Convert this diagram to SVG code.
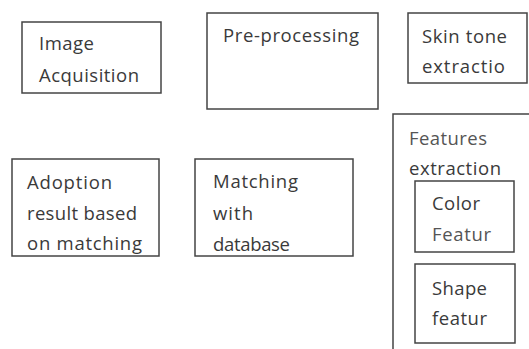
<svg xmlns="http://www.w3.org/2000/svg" width="529" height="349" viewBox="0 0 529 349">
<style>
.box{fill:#fff;stroke:#444;stroke-width:1.5}
.t{font-family:"Open Sans","DejaVu Sans",sans-serif;font-size:18.5px;fill:#3a3a3a}
.g{fill:#555}
</style>
<rect width="529" height="349" fill="#fff"/>
<g id="connectors"/>
<g id="image-acquisition">
<rect class="box" x="22" y="22" width="139" height="71"/>
<text class="t" x="39" y="50" textLength="55">Image</text>
<text class="t" x="39" y="82" textLength="100">Acquisition</text>
</g>
<g id="pre-processing">
<rect class="box" x="207" y="13" width="171" height="96"/>
<text class="t" x="223" y="42" textLength="136">Pre-processing</text>
</g>
<g id="skin-tone">
<rect class="box" x="408" y="13" width="119" height="70"/>
<text class="t" x="422" y="43" textLength="85">Skin tone</text>
<text class="t" x="422" y="73" textLength="83">extractio</text>
</g>
<g id="features-extraction">
<rect class="box" x="393" y="114" width="145" height="245"/>
<text class="t g" x="409" y="145" textLength="78">Features</text>
<text class="t" x="409" y="175" textLength="92">extraction</text>
</g>
<g id="color-feature">
<rect class="box" x="415" y="181" width="99" height="71"/>
<text class="t" x="432" y="210" textLength="48">Color</text>
<text class="t g" x="432" y="241" textLength="59">Featur</text>
</g>
<g id="shape-feature">
<rect class="box" x="415" y="264" width="100" height="79"/>
<text class="t" x="432" y="295" textLength="55">Shape</text>
<text class="t" x="432" y="325" textLength="55">featur</text>
</g>
<g id="adoption">
<rect class="box" x="12" y="159" width="147" height="97"/>
<text class="t" x="27" y="189" textLength="85">Adoption</text>
<text class="t" x="27" y="220" textLength="110">result based</text>
<text class="t" x="27" y="250" textLength="115">on matching</text>
</g>
<g id="matching">
<rect class="box" x="195" y="159" width="158" height="97"/>
<text class="t" x="213" y="188" textLength="85">Matching</text>
<text class="t" x="213" y="220" textLength="40">with</text>
<text class="t" x="213" y="251" textLength="77">database</text>
</g>
</svg>
